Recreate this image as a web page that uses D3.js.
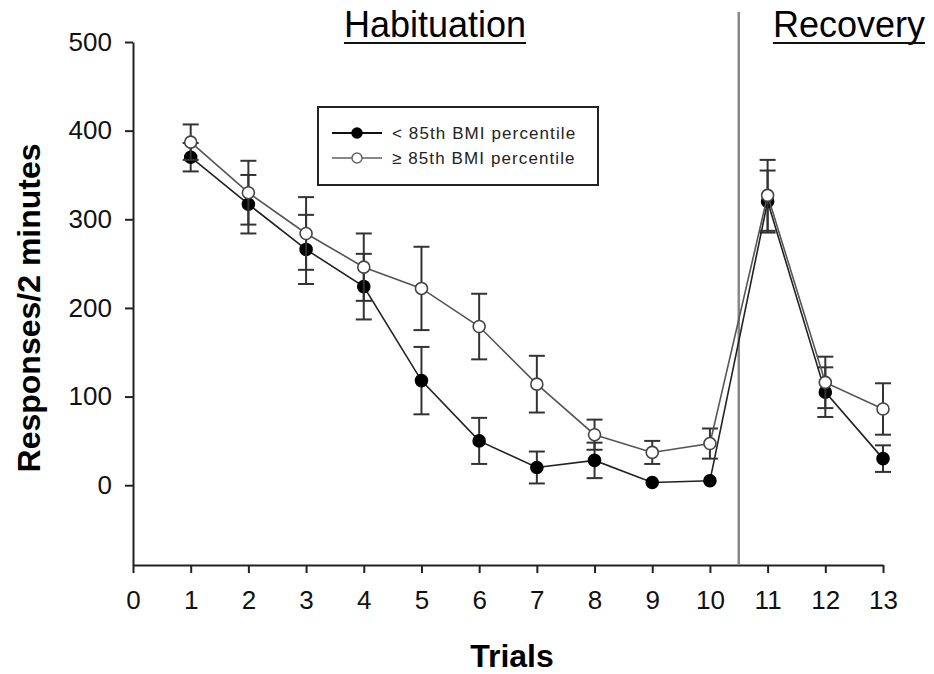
<!DOCTYPE html>
<html>
<head>
<meta charset="utf-8">
<script src="https://cdn.jsdelivr.net/npm/d3@7"></script>
<style>
  body { margin: 0; background: #fff; }
  svg { font-family: "Liberation Sans", Arial, sans-serif; }
</style>
</head>
<body>
<svg id="chart" width="934" height="674"></svg>
<script>
const trials = [1, 2, 3, 4, 5, 6, 7, 8, 9, 10, 11, 12, 13];
const lowMean = [370, 317, 266, 224, 118, 50, 20, 28, 3, 5, 320, 105, 30];
const lowErr = [16, 33, 39, 37, 38, 26, 18, 20, 0, 0, 35, 28, 15];
const highMean = [387, 330, 284, 246, 222, 179, 114, 57, 37, 47, 327, 116, 86];
const highErr = [20, 36, 41, 38, 47, 37, 32, 17, 13, 17, 40, 29, 29];
const xTicks = d3.range(0, 14);
const yTicks = [0, 100, 200, 300, 400, 500];
const legendLabels = ["< 85th BMI percentile", "\u2265 85th BMI percentile"];

const svg = d3.select("#chart");
const x = d3.scaleLinear().domain([0, 13]).range([133, 883]);
const y = d3.scaleLinear().domain([-90, 500]).range([565, 42]);

// axes
const yAxis = svg.append("g")
  .attr("transform", `translate(${x(0)},0)`)
  .call(d3.axisLeft(y).tickValues(yTicks).tickSize(8).tickSizeOuter(0).tickPadding(13));
const xAxis = svg.append("g")
  .attr("transform", `translate(0,${y(-90)})`)
  .call(d3.axisBottom(x).tickValues(xTicks).tickSize(8).tickSizeOuter(0).tickPadding(18));

[yAxis, xAxis].forEach((a) => {
  a.select(".domain").attr("stroke", "#222").attr("stroke-width", 2);
  a.selectAll(".tick line").attr("stroke", "#222").attr("stroke-width", 2);
  a.selectAll(".tick text").attr("font-size", 26).attr("fill", "#111");
});

svg.append("text")
  .attr("transform", `translate(40,${y(200)}) rotate(-90)`)
  .attr("text-anchor", "middle")
  .attr("font-size", 32).attr("font-weight", "bold")
  .text("Responses/2 minutes");
svg.append("text")
  .attr("x", 512).attr("y", 667)
  .attr("text-anchor", "middle")
  .attr("font-size", 32).attr("font-weight", "bold")
  .text("Trials");

// phase divider
svg.append("line")
  .attr("x1", x(10.5)).attr("x2", x(10.5))
  .attr("y1", 12).attr("y2", y(-90))
  .attr("stroke", "#888").attr("stroke-width", 2.5);

function header(txt, cx) {
  const t = svg.append("text")
    .attr("x", cx).attr("y", 37)
    .attr("text-anchor", "middle")
    .attr("font-size", 36)
    .text(txt);
  const w = t.node().getComputedTextLength();
  svg.append("line")
    .attr("x1", cx - w / 2).attr("x2", cx + w / 2)
    .attr("y1", 43).attr("y2", 43)
    .attr("stroke", "#111").attr("stroke-width", 1.8);
}
header("Habituation", 435);
header("Recovery", 849);

function drawSeries(means, errs, lineColor, filled) {
  const g = svg.append("g");
  const pts = trials.map((t, i) => ({ t, m: means[i], e: errs[i] }));
  const eb = g.selectAll("g.err").data(pts.filter((d) => d.e > 0)).enter().append("g");
  eb.append("line")
    .attr("x1", (d) => x(d.t)).attr("x2", (d) => x(d.t))
    .attr("y1", (d) => y(d.m - d.e)).attr("y2", (d) => y(d.m + d.e))
    .attr("stroke", "#333").attr("stroke-width", 2);
  [-1, 1].forEach((s) => {
    eb.append("line")
      .attr("x1", (d) => x(d.t) - 8).attr("x2", (d) => x(d.t) + 8)
      .attr("y1", (d) => y(d.m + s * d.e)).attr("y2", (d) => y(d.m + s * d.e))
      .attr("stroke", "#333").attr("stroke-width", 2);
  });
  const line = d3.line().x((d) => x(d.t)).y((d) => y(d.m));
  g.append("path").datum(pts).attr("d", line)
    .attr("fill", "none").attr("stroke", lineColor).attr("stroke-width", 1.6);
  g.selectAll("circle").data(pts).enter().append("circle")
    .attr("cx", (d) => x(d.t)).attr("cy", (d) => y(d.m)).attr("r", 6)
    .attr("fill", filled ? "#000" : "#fff")
    .attr("stroke", filled ? "#000" : "#444").attr("stroke-width", 1.6);
}
drawSeries(lowMean, lowErr, "#222", true);
drawSeries(highMean, highErr, "#555", false);

// legend
const lg = svg.append("g").attr("transform", "translate(318,107)");
lg.append("rect").attr("width", 280).attr("height", 78)
  .attr("fill", "#fff").attr("stroke", "#222").attr("stroke-width", 2);
legendLabels.forEach((lab, i) => {
  const yy = 26 + i * 25;
  lg.append("line").attr("x1", 14).attr("x2", 64).attr("y1", yy).attr("y2", yy)
    .attr("stroke", i === 0 ? "#111" : "#888").attr("stroke-width", 2);
  lg.append("circle").attr("cx", 39).attr("cy", yy).attr("r", 5)
    .attr("fill", i === 0 ? "#000" : "#fff")
    .attr("stroke", i === 0 ? "#000" : "#666").attr("stroke-width", 1.5);
  lg.append("text").attr("x", 74).attr("y", yy + 6)
    .attr("font-size", 17).attr("letter-spacing", 1.1).attr("fill", "#222").text(lab);
});
</script>
</body>
</html>
